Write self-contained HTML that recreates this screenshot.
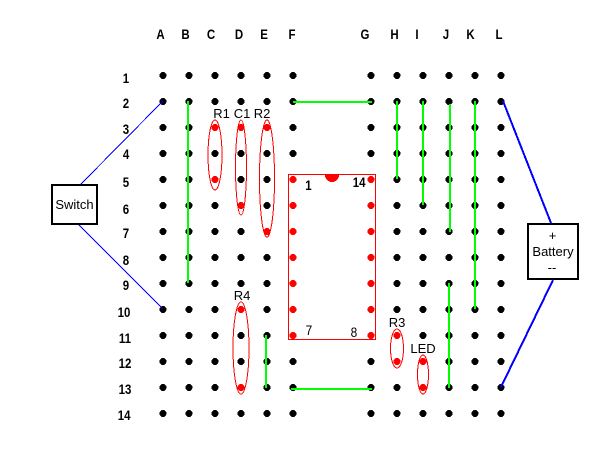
<!DOCTYPE html>
<html><head><meta charset="utf-8"><style>
html,body{margin:0;padding:0;background:#fff;width:600px;height:450px;overflow:hidden}
svg{display:block;shape-rendering:crispEdges}
text{font-family:"Liberation Sans",sans-serif;font-size:13px;fill:#000;text-anchor:middle}
text.b{font-weight:bold;font-size:14px;transform-box:fill-box;transform-origin:center;transform:scaleX(.82)}
text.n{font-size:14px;transform-box:fill-box;transform-origin:center;transform:scaleX(.85)}
</style></head><body>
<svg width="600" height="450" viewBox="0 0 600 450" xmlns="http://www.w3.org/2000/svg">
<rect width="600" height="450" fill="#fff"/>
<g>
<text class="b" x="160.5" y="39">A</text><text class="b" x="185.5" y="39">B</text><text class="b" x="211" y="39">C</text><text class="b" x="239" y="39">D</text><text class="b" x="264" y="39">E</text><text class="b" x="292" y="39">F</text><text class="b" x="365" y="39">G</text><text class="b" x="394.5" y="39">H</text><text class="b" x="417" y="39">I</text><text class="b" x="446" y="39">J</text><text class="b" x="470.5" y="39">K</text><text class="b" x="499" y="39">L</text>
<text class="b" x="126" y="83">1</text><text class="b" x="126" y="108">2</text><text class="b" x="126" y="134">3</text><text class="b" x="126" y="159">4</text><text class="b" x="126" y="187">5</text><text class="b" x="126" y="214">6</text><text class="b" x="126" y="238">7</text><text class="b" x="126" y="265">8</text><text class="b" x="126" y="290">9</text><text class="b" x="124" y="317">10</text><text class="b" x="125" y="343">11</text><text class="b" x="125" y="368">12</text><text class="b" x="125" y="394">13</text><text class="b" x="124" y="420">14</text>
</g>
<g fill="#000">
<circle cx="163" cy="75.5" r="3.5"/><circle cx="189" cy="75.5" r="3.5"/><circle cx="215" cy="75.5" r="3.5"/><circle cx="241" cy="75.5" r="3.5"/><circle cx="267" cy="75.5" r="3.5"/><circle cx="293" cy="75.5" r="3.5"/><circle cx="371" cy="75.5" r="3.5"/><circle cx="397" cy="75.5" r="3.5"/><circle cx="423" cy="75.5" r="3.5"/><circle cx="449" cy="75.5" r="3.5"/><circle cx="475" cy="75.5" r="3.5"/><circle cx="501" cy="75.5" r="3.5"/>
<circle cx="163" cy="101.5" r="3.5"/><circle cx="189" cy="101.5" r="3.5"/><circle cx="215" cy="101.5" r="3.5"/><circle cx="241" cy="101.5" r="3.5"/><circle cx="267" cy="101.5" r="3.5"/><circle cx="293" cy="101.5" r="3.5"/><circle cx="371" cy="101.5" r="3.5"/><circle cx="397" cy="101.5" r="3.5"/><circle cx="423" cy="101.5" r="3.5"/><circle cx="449" cy="101.5" r="3.5"/><circle cx="475" cy="101.5" r="3.5"/><circle cx="501" cy="101.5" r="3.5"/>
<circle cx="163" cy="127.5" r="3.5"/><circle cx="189" cy="127.5" r="3.5"/><circle cx="293" cy="127.5" r="3.5"/><circle cx="371" cy="127.5" r="3.5"/><circle cx="397" cy="127.5" r="3.5"/><circle cx="423" cy="127.5" r="3.5"/><circle cx="449" cy="127.5" r="3.5"/><circle cx="475" cy="127.5" r="3.5"/><circle cx="501" cy="127.5" r="3.5"/>
<circle cx="163" cy="153.5" r="3.5"/><circle cx="189" cy="153.5" r="3.5"/><circle cx="215" cy="153.5" r="3.5"/><circle cx="241" cy="153.5" r="3.5"/><circle cx="267" cy="153.5" r="3.5"/><circle cx="293" cy="153.5" r="3.5"/><circle cx="371" cy="153.5" r="3.5"/><circle cx="397" cy="153.5" r="3.5"/><circle cx="423" cy="153.5" r="3.5"/><circle cx="449" cy="153.5" r="3.5"/><circle cx="475" cy="153.5" r="3.5"/><circle cx="501" cy="153.5" r="3.5"/>
<circle cx="163" cy="179.5" r="3.5"/><circle cx="189" cy="179.5" r="3.5"/><circle cx="241" cy="179.5" r="3.5"/><circle cx="267" cy="179.5" r="3.5"/><circle cx="397" cy="179.5" r="3.5"/><circle cx="423" cy="179.5" r="3.5"/><circle cx="449" cy="179.5" r="3.5"/><circle cx="475" cy="179.5" r="3.5"/><circle cx="501" cy="179.5" r="3.5"/>
<circle cx="163" cy="205.5" r="3.5"/><circle cx="189" cy="205.5" r="3.5"/><circle cx="215" cy="205.5" r="3.5"/><circle cx="267" cy="205.5" r="3.5"/><circle cx="397" cy="205.5" r="3.5"/><circle cx="423" cy="205.5" r="3.5"/><circle cx="449" cy="205.5" r="3.5"/><circle cx="475" cy="205.5" r="3.5"/><circle cx="501" cy="205.5" r="3.5"/>
<circle cx="163" cy="231.5" r="3.5"/><circle cx="189" cy="231.5" r="3.5"/><circle cx="215" cy="231.5" r="3.5"/><circle cx="241" cy="231.5" r="3.5"/><circle cx="397" cy="231.5" r="3.5"/><circle cx="423" cy="231.5" r="3.5"/><circle cx="449" cy="231.5" r="3.5"/><circle cx="475" cy="231.5" r="3.5"/><circle cx="501" cy="231.5" r="3.5"/>
<circle cx="163" cy="257.5" r="3.5"/><circle cx="189" cy="257.5" r="3.5"/><circle cx="215" cy="257.5" r="3.5"/><circle cx="241" cy="257.5" r="3.5"/><circle cx="267" cy="257.5" r="3.5"/><circle cx="397" cy="257.5" r="3.5"/><circle cx="423" cy="257.5" r="3.5"/><circle cx="449" cy="257.5" r="3.5"/><circle cx="475" cy="257.5" r="3.5"/><circle cx="501" cy="257.5" r="3.5"/>
<circle cx="163" cy="283.5" r="3.5"/><circle cx="189" cy="283.5" r="3.5"/><circle cx="215" cy="283.5" r="3.5"/><circle cx="241" cy="283.5" r="3.5"/><circle cx="267" cy="283.5" r="3.5"/><circle cx="397" cy="283.5" r="3.5"/><circle cx="423" cy="283.5" r="3.5"/><circle cx="449" cy="283.5" r="3.5"/><circle cx="475" cy="283.5" r="3.5"/><circle cx="501" cy="283.5" r="3.5"/>
<circle cx="163" cy="309.5" r="3.5"/><circle cx="189" cy="309.5" r="3.5"/><circle cx="215" cy="309.5" r="3.5"/><circle cx="267" cy="309.5" r="3.5"/><circle cx="397" cy="309.5" r="3.5"/><circle cx="423" cy="309.5" r="3.5"/><circle cx="449" cy="309.5" r="3.5"/><circle cx="475" cy="309.5" r="3.5"/><circle cx="501" cy="309.5" r="3.5"/>
<circle cx="163" cy="335.5" r="3.5"/><circle cx="189" cy="335.5" r="3.5"/><circle cx="215" cy="335.5" r="3.5"/><circle cx="241" cy="335.5" r="3.5"/><circle cx="267" cy="335.5" r="3.5"/><circle cx="423" cy="335.5" r="3.5"/><circle cx="449" cy="335.5" r="3.5"/><circle cx="475" cy="335.5" r="3.5"/><circle cx="501" cy="335.5" r="3.5"/>
<circle cx="163" cy="361.5" r="3.5"/><circle cx="189" cy="361.5" r="3.5"/><circle cx="215" cy="361.5" r="3.5"/><circle cx="241" cy="361.5" r="3.5"/><circle cx="267" cy="361.5" r="3.5"/><circle cx="293" cy="361.5" r="3.5"/><circle cx="371" cy="361.5" r="3.5"/><circle cx="449" cy="361.5" r="3.5"/><circle cx="475" cy="361.5" r="3.5"/><circle cx="501" cy="361.5" r="3.5"/>
<circle cx="163" cy="387.5" r="3.5"/><circle cx="189" cy="387.5" r="3.5"/><circle cx="215" cy="387.5" r="3.5"/><circle cx="267" cy="387.5" r="3.5"/><circle cx="293" cy="387.5" r="3.5"/><circle cx="371" cy="387.5" r="3.5"/><circle cx="397" cy="387.5" r="3.5"/><circle cx="449" cy="387.5" r="3.5"/><circle cx="475" cy="387.5" r="3.5"/><circle cx="501" cy="387.5" r="3.5"/>
<circle cx="163" cy="413.5" r="3.5"/><circle cx="189" cy="413.5" r="3.5"/><circle cx="215" cy="413.5" r="3.5"/><circle cx="241" cy="413.5" r="3.5"/><circle cx="267" cy="413.5" r="3.5"/><circle cx="293" cy="413.5" r="3.5"/><circle cx="371" cy="413.5" r="3.5"/><circle cx="397" cy="413.5" r="3.5"/><circle cx="423" cy="413.5" r="3.5"/><circle cx="449" cy="413.5" r="3.5"/><circle cx="475" cy="413.5" r="3.5"/><circle cx="501" cy="413.5" r="3.5"/>
</g>
<g fill="#f00">
<circle cx="215" cy="127.5" r="3.5"/><circle cx="241" cy="127.5" r="3.5"/><circle cx="267" cy="127.5" r="3.5"/>
<circle cx="215" cy="179.5" r="3.5"/><circle cx="241" cy="205.5" r="3.5"/><circle cx="267" cy="231.5" r="3.5"/>
<circle cx="241" cy="309.5" r="3.5"/><circle cx="241" cy="387.5" r="3.5"/>
<circle cx="397" cy="335.5" r="3.5"/><circle cx="397" cy="361.5" r="3.5"/>
<circle cx="423" cy="361.5" r="3.5"/><circle cx="423" cy="387.5" r="3.5"/>
<circle cx="293" cy="179.5" r="3.5"/><circle cx="293" cy="205.5" r="3.5"/><circle cx="293" cy="231.5" r="3.5"/><circle cx="293" cy="257.5" r="3.5"/><circle cx="293" cy="283.5" r="3.5"/><circle cx="293" cy="309.5" r="3.5"/><circle cx="293" cy="335.5" r="3.5"/>
<circle cx="371" cy="179.5" r="3.5"/><circle cx="371" cy="205.5" r="3.5"/><circle cx="371" cy="231.5" r="3.5"/><circle cx="371" cy="257.5" r="3.5"/><circle cx="371" cy="283.5" r="3.5"/><circle cx="371" cy="309.5" r="3.5"/><circle cx="371" cy="335.5" r="3.5"/>
<path d="M325 175 h14 a7 7 0 0 1 -14 0z"/>
</g>
<g fill="none" stroke="#f00" stroke-width="1">
<rect x="288.5" y="174.5" width="87" height="165"/>
<ellipse cx="215" cy="155" rx="7" ry="35"/>
<ellipse cx="241" cy="167.5" rx="5.5" ry="47.5"/>
<ellipse cx="267" cy="178.5" rx="7.5" ry="58.5"/>
<ellipse cx="241" cy="348" rx="8" ry="46"/>
<ellipse cx="397" cy="348.5" rx="6.5" ry="19.5"/>
<ellipse cx="423" cy="374.5" rx="5.5" ry="19.5"/>
</g>
<g stroke="#0f0" stroke-width="2" fill="none">
<path d="M188 101V283"/><path d="M293 102H372"/><path d="M397 101V179"/><path d="M423 101V205"/><path d="M450 104V232"/><path d="M449 283V388"/><path d="M475 101V309"/><path d="M266 335V388"/><path d="M291 389H372"/>
</g>
<g stroke="#00f" fill="none">
<path d="M163 101L81 184" stroke-width="1"/><path d="M78 224L163 309" stroke-width="1"/>
<path d="M503 101L551 223" stroke-width="2"/><path d="M553 280L501 387" stroke-width="2"/>
</g>
<rect x="52" y="185" width="45" height="39" fill="#fff" stroke="#000" stroke-width="2"/>
<rect x="528" y="224" width="50" height="55" fill="#fff" stroke="#000" stroke-width="2"/>
<text x="74.5" y="209">Switch</text>
<text x="552.5" y="240">+</text><text x="553" y="256">Battery</text><text x="552" y="272">--</text>
<text x="221.5" y="118">R1</text><text x="242" y="118">C1</text><text x="262" y="118">R2</text>
<text x="242" y="300">R4</text><text x="397" y="327">R3</text><text x="423" y="353">LED</text>
<text class="b" x="308.5" y="190">1</text><text class="b" x="359" y="187">14</text>
<text class="n" x="309" y="335">7</text><text class="n" x="354" y="337">8</text>
</svg>
</body></html>
